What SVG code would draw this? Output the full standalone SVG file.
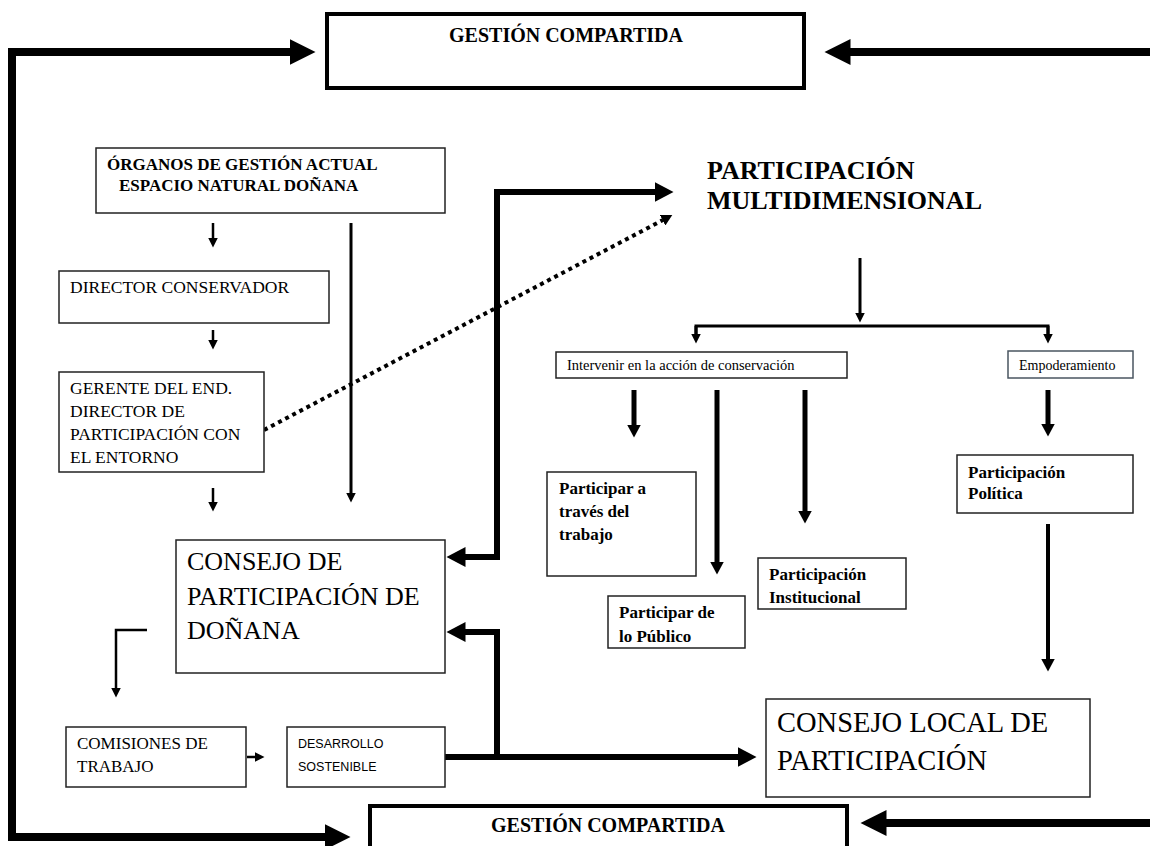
<svg xmlns="http://www.w3.org/2000/svg" width="1150" height="846" viewBox="0 0 1150 846">
<style>
.box{fill:#fff;stroke:#222;stroke-width:1.5}
.gbox{fill:#fff;stroke:#000;stroke-width:4}
.t{font-family:"Liberation Serif","Times New Roman",serif;fill:#000}
.b{font-weight:bold}
.s{font-family:"Liberation Sans",Arial,sans-serif;fill:#000}
.c{fill:none;stroke:#000}
</style>
<defs>
<marker id="mBig" markerUnits="userSpaceOnUse" markerWidth="27" markerHeight="26" refX="0.5" refY="13" orient="auto-start-reverse"><path d="M0,0 L26,13 L0,26 z" fill="#000"/></marker>
<marker id="mMed" markerUnits="userSpaceOnUse" markerWidth="20" markerHeight="20" refX="0.5" refY="10" orient="auto-start-reverse"><path d="M0,0 L19,10 L0,20 z" fill="#000"/></marker>
<marker id="mMid" markerUnits="userSpaceOnUse" markerWidth="14" markerHeight="14" refX="0.5" refY="7" orient="auto"><path d="M0,0 L13,7 L0,14 z" fill="#000"/></marker>
<marker id="mSm" markerUnits="userSpaceOnUse" markerWidth="11" markerHeight="10" refX="0.5" refY="5" orient="auto"><path d="M0,0 L10,5 L0,10 z" fill="#000"/></marker>
<marker id="mDot" markerUnits="userSpaceOnUse" markerWidth="12" markerHeight="12" refX="0.5" refY="6" orient="auto"><path d="M0,0 L11,6 L0,12 z" fill="#000"/></marker>
</defs>

<g id="connectors">
<path class="c" d="M290,52 H12 V837 H325" stroke-width="8" marker-start="url(#mBig)" marker-end="url(#mBig)"/>
<path class="c" d="M1150,52 H850" stroke-width="8" marker-end="url(#mBig)"/>
<path class="c" d="M1150,823 H886" stroke-width="8" marker-end="url(#mBig)"/>
<path class="c" d="M655,192 H497 V557 H465" stroke-width="6" marker-start="url(#mMed)" marker-end="url(#mMed)"/>
<path class="c" d="M445,757 H738" stroke-width="6" marker-end="url(#mMed)"/>
<path class="c" d="M497,757 V632 H465" stroke-width="6" marker-end="url(#mMed)"/>
<path class="c" d="M264,430 L663,220" stroke-width="4" stroke-dasharray="4 4" marker-end="url(#mDot)"/>
<path class="c" d="M213,223 V238" stroke-width="2.5" marker-end="url(#mSm)"/>
<path class="c" d="M213,330 V340" stroke-width="2.5" marker-end="url(#mSm)"/>
<path class="c" d="M213,488 V502" stroke-width="2.5" marker-end="url(#mSm)"/>
<path class="c" d="M351,223 V493" stroke-width="3" marker-end="url(#mSm)"/>
<path class="c" d="M147,630 H116 V688" stroke-width="2.5" marker-end="url(#mSm)"/>
<path class="c" d="M247,757 H255" stroke-width="2.5" marker-end="url(#mSm)"/>
<path class="c" d="M860,258 V313" stroke-width="3" marker-end="url(#mSm)"/>
<path class="c" d="M696,334 V326 H1048 V334" stroke-width="3"/>
<path class="c" d="M696,326 V334" stroke-width="3" marker-end="url(#mSm)"/>
<path class="c" d="M1048,326 V334" stroke-width="3" marker-end="url(#mSm)"/>
<path class="c" d="M634,390 V425" stroke-width="5" marker-end="url(#mMid)"/>
<path class="c" d="M717,390 V562" stroke-width="5" marker-end="url(#mMid)"/>
<path class="c" d="M805,390 V511" stroke-width="5" marker-end="url(#mMid)"/>
<path class="c" d="M1048,390 V424" stroke-width="5" marker-end="url(#mMid)"/>
<path class="c" d="M1048,524 V659" stroke-width="4" marker-end="url(#mMid)"/>
</g>

<g id="gestion-top">
<rect class="gbox" x="327" y="14" width="477" height="74"/>
<text class="t b" x="566" y="42" font-size="20" text-anchor="middle">GESTIÓN COMPARTIDA</text>
</g>
<g id="gestion-bottom">
<rect class="gbox" x="370" y="806" width="477" height="60"/>
<text class="t b" x="608" y="832" font-size="20" text-anchor="middle">GESTIÓN COMPARTIDA</text>
</g>
<g id="organos">
<rect class="box" x="96" y="148" width="349" height="65"/>
<text class="t b" x="107" y="170" font-size="17">ÓRGANOS DE GESTIÓN ACTUAL</text>
<text class="t b" x="119" y="191" font-size="17">ESPACIO NATURAL DOÑANA</text>
</g>
<g id="director">
<rect class="box" x="59" y="271" width="270" height="52"/>
<text class="t" x="70" y="293" font-size="17.5">DIRECTOR CONSERVADOR</text>
</g>
<g id="gerente">
<rect class="box" x="59" y="372" width="205" height="100"/>
<text class="t" font-size="17.5"><tspan x="70" y="394">GERENTE DEL END.</tspan><tspan x="70" y="417">DIRECTOR DE</tspan><tspan x="70" y="440">PARTICIPACIÓN CON</tspan><tspan x="70" y="463">EL ENTORNO</tspan></text>
</g>
<g id="consejo-donana">
<rect class="box" x="176" y="540" width="269" height="133"/>
<text class="t" font-size="26"><tspan x="187" y="570">CONSEJO DE</tspan><tspan x="187" y="605">PARTICIPACIÓN DE</tspan><tspan x="187" y="639">DOÑANA</tspan></text>
</g>
<g id="comisiones">
<rect class="box" x="66" y="727" width="180" height="60"/>
<text class="t" font-size="17"><tspan x="77" y="749">COMISIONES DE</tspan><tspan x="77" y="772">TRABAJO</tspan></text>
</g>
<g id="desarrollo">
<rect class="box" x="287" y="727" width="158" height="60"/>
<text class="s" font-size="12.5"><tspan x="298" y="748">DESARROLLO</tspan><tspan x="298" y="771">SOSTENIBLE</tspan></text>
</g>
<g id="participacion-multi">
<text class="t b" font-size="26"><tspan x="707" y="179">PARTICIPACIÓN</tspan><tspan x="707" y="209">MULTIDIMENSIONAL</tspan></text>
</g>
<g id="intervenir">
<rect class="box" x="556" y="352" width="291" height="26"/>
<text class="t" x="567" y="370" font-size="14.5">Intervenir en la acción de conservación</text>
</g>
<g id="empoderamiento">
<rect class="box" x="1008" y="351" width="125" height="27" style="stroke:#4a5560"/>
<text class="t" x="1019" y="370" font-size="14">Empoderamiento</text>
</g>
<g id="politica">
<rect class="box" x="957" y="455" width="176" height="58"/>
<text class="t b" font-size="17"><tspan x="968" y="478">Participación</tspan><tspan x="968" y="499">Política</tspan></text>
</g>
<g id="trabajo">
<rect class="box" x="547" y="472" width="149" height="104"/>
<text class="t b" font-size="17"><tspan x="559" y="494">Participar a</tspan><tspan x="559" y="517">través del</tspan><tspan x="559" y="540">trabajo</tspan></text>
</g>
<g id="publico">
<rect class="box" x="608" y="596" width="137" height="52"/>
<text class="t b" font-size="17"><tspan x="619" y="618">Participar de</tspan><tspan x="619" y="642">lo Público</tspan></text>
</g>
<g id="institucional">
<rect class="box" x="758" y="558" width="148" height="51"/>
<text class="t b" font-size="17"><tspan x="769" y="580">Participación</tspan><tspan x="769" y="603">Institucional</tspan></text>
</g>
<g id="consejo-local">
<rect class="box" x="766" y="699" width="324" height="98"/>
<text class="t" font-size="28.5"><tspan x="777" y="732">CONSEJO LOCAL DE</tspan><tspan x="777" y="770">PARTICIPACIÓN</tspan></text>
</g>
</svg>
